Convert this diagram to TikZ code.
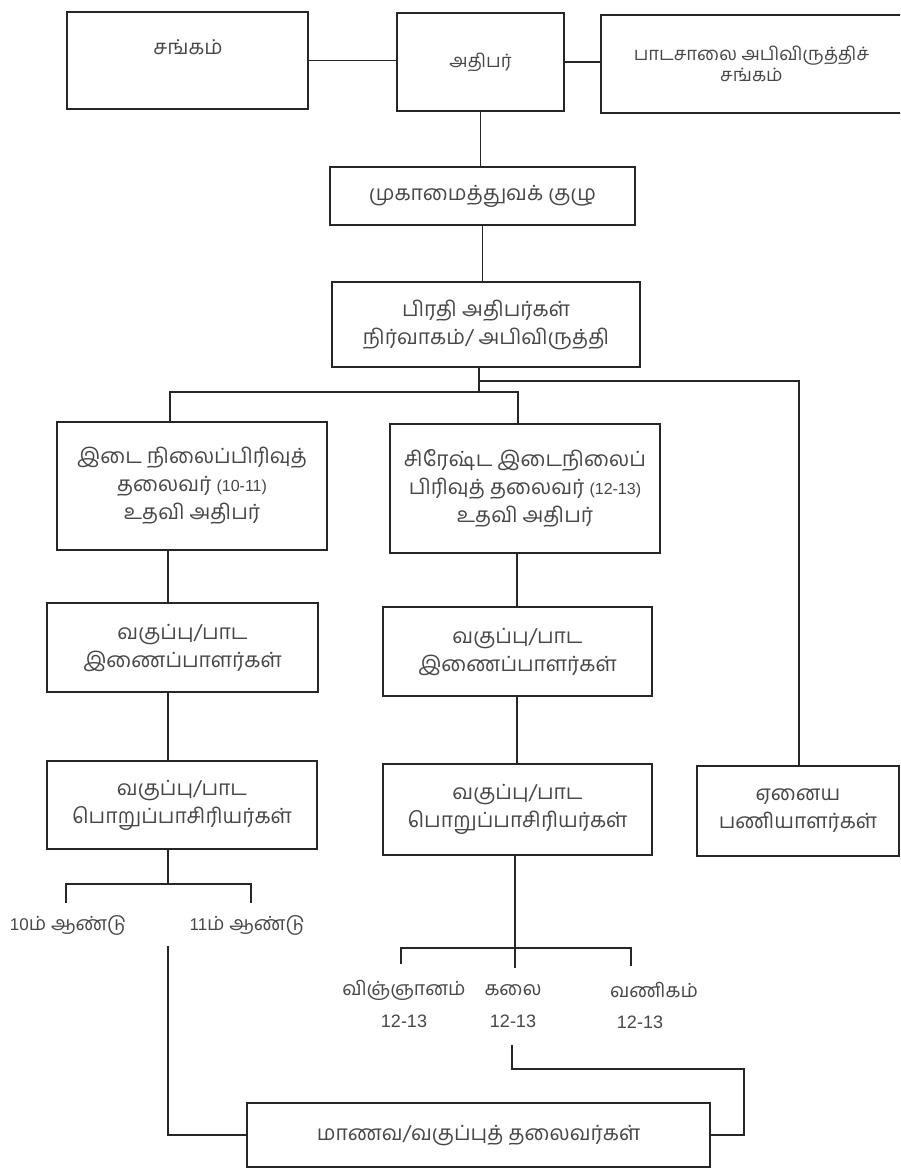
\documentclass[tikz,border=0pt]{standalone}
\usepackage{fontspec}
\newfontfamily\tam[Script=Tamil]{Hind Madurai}
\newfontfamily\lat{Liberation Sans}
\begin{document}
\begin{tikzpicture}[x=1pt,y=-1pt,
  box/.style={draw=black!85,line width=1.5pt,rectangle,inner sep=0pt,outer sep=0pt,align=center,
    font=\tam\fontsize{21}{28}\selectfont,text=black!72},
  topbox/.style={box,font=\tam\fontsize{18.5}{21}\selectfont},
  lbl/.style={inner sep=0pt,align=center,font=\tam\fontsize{19.5}{22}\selectfont,text=black!72},
  num/.style={inner sep=0pt,font=\lat\fontsize{18}{18}\selectfont,text=black!72},
  wire/.style={draw=black!85,line width=1.5pt}]
\useasboundingbox (0,0) rectangle (900,1169);
\clip (0,0) rectangle (900,1169);
\fill[white] (0,0) rectangle (900,1169);
% top row
\node[topbox,minimum width=241pt,minimum height=97pt] (sangam) at (187.5,60.5) {};
\node[lbl,font=\tam\fontsize{20.5}{21}\selectfont] (sangamt) at (188,47) {சங்கம்};
\node[topbox,minimum width=167pt,minimum height=98pt] (athipar) at (480.5,62) {அதிபர்};
\node[topbox,minimum width=309pt,minimum height=98pt] (pada) at (755.5,64) {\hspace*{-8pt}பாடசாலை அபிவிருத்திச்\\\hspace*{-8pt}சங்கம்};
\node[box,minimum width=305pt,minimum height=58pt] (mukamai) at (482.5,196) {முகாமைத்துவக் குழு};
\node[box,minimum width=308pt,minimum height=85pt] (pirathi) at (486,324.5) {பிரதி அதிபர்கள்\\நிர்வாகம்/ அபிவிருத்தி};
% second level
\node[box,minimum width=270pt,minimum height=128pt] (idai) at (192,486) {இடை நிலைப்பிரிவுத்\\தலைவர் {\lat\fontsize{16}{28}\selectfont(10-11)}\\உதவி அதிபர்};
\node[box,minimum width=270pt,minimum height=129pt] (sirest) at (525,488.5) {சிரேஷ்ட இடைநிலைப்\\பிரிவுத் தலைவர் {\lat\fontsize{16}{28}\selectfont(12-13)}\\உதவி அதிபர்};
\node[box,minimum width=271pt,minimum height=89pt] (inai1) at (182.5,647.5) {வகுப்பு/பாட\\இணைப்பாளர்கள்};
\node[box,minimum width=269pt,minimum height=89pt] (inai2) at (517.5,651.5) {வகுப்பு/பாட\\இணைப்பாளர்கள்};
\node[box,minimum width=270pt,minimum height=88pt] (porup1) at (182,805) {வகுப்பு/பாட\\பொறுப்பாசிரியர்கள்};
\node[box,minimum width=269pt,minimum height=91pt] (porup2) at (517.5,809.5) {வகுப்பு/பாட\\பொறுப்பாசிரியர்கள்};
\node[box,minimum width=202pt,minimum height=90pt] (enaiya) at (798,811) {ஏனைய\\பணியாளர்கள்};
% years
\node[lbl] (y10) at (68,925) {{\lat\fontsize{17}{18}\selectfont 10}ம் ஆண்டு};
\node[lbl] (y11) at (247,925) {{\lat\fontsize{17}{18}\selectfont 11}ம் ஆண்டு};
% streams
\node[lbl] (sci) at (404,990) {விஞ்ஞானம்};
\node[num] (scin) at (404,1021) {12-13};
\node[lbl] (kalai) at (513,990) {கலை};
\node[num] (kalain) at (513,1021) {12-13};
\node[lbl] (vani) at (654,990) {வணிகம்};
\node[num] (vanin) at (640,1022) {12-13};
% bottom
\node[box,minimum width=463pt,minimum height=64pt] (manava) at (478.5,1135) {மாணவ/வகுப்புத் தலைவர்கள்};
% coordinates
\coordinate (b1) at (479,392);
\coordinate (b2) at (479,381);
\coordinate (bl) at (170,392);
\coordinate (br) at (518,392);
\coordinate (be) at (799,381);
\coordinate (c1) at (168,0);
\coordinate (c2) at (517,0);
\coordinate (k0) at (168,884);
\coordinate (k10) at (66,884);
\coordinate (k11) at (251,884);
\coordinate (k10e) at (66,903);
\coordinate (k11e) at (251,903);
\coordinate (m1) at (168,946);
\coordinate (s0) at (515,948);
\coordinate (s0e) at (515,968);
\coordinate (s1) at (401,948);
\coordinate (s2) at (631,948);
\coordinate (s1e) at (401,964);
\coordinate (s2e) at (631,966);
\coordinate (q1) at (512,1045);
\coordinate (q2) at (744,1069);
% connectors
\draw[wire] (sangam.east) -- (sangam.east -| athipar.west);
\draw[wire] (athipar.east) -- (athipar.east -| pada.west);
\draw[wire] (athipar.south) -- (athipar.south |- mukamai.north);
\draw[wire] (mukamai.south) -- (mukamai.south |- pirathi.north);
\draw[wire] (pirathi.south -| b1) -- (b1);
\draw[wire] (bl |- idai.north) -- (bl) -- (br) -- (br |- sirest.north);
\draw[wire] (b2) -- (be) -- (be |- enaiya.north);
\draw[wire] (c1 |- idai.south) -- (c1 |- inai1.north);
\draw[wire] (c1 |- inai1.south) -- (c1 |- porup1.north);
\draw[wire] (c2 |- sirest.south) -- (c2 |- inai2.north);
\draw[wire] (c2 |- inai2.south) -- (c2 |- porup2.north);
\draw[wire] (porup1.south -| k0) -- (k0);
\draw[wire] (k10e) -- (k10) -- (k11) -- (k11e);
\draw[wire] (m1) -- (m1 |- manava.west) -- (manava.west);
\draw[wire] (porup2.south -| s0) -- (s0e);
\draw[wire] (s1e) -- (s1) -- (s2) -- (s2e);
\draw[wire] (q1) -- (q1 |- q2) -- (q2) -- (q2 |- manava.east) -- (manava.east);
\end{tikzpicture}
\end{document}
